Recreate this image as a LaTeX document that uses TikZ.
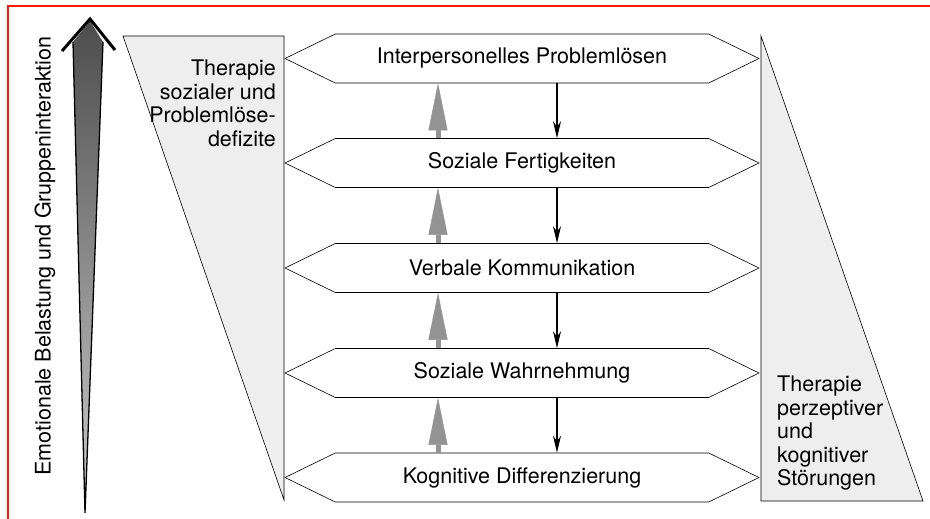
\documentclass[tikz,border=0pt]{standalone}
\usepackage{fontspec}
\setmainfont{TeX Gyre Heros}
\usepackage{xcolor}
\usepackage{tikz}
\usetikzlibrary{arrows.meta}
\usetikzlibrary{shapes.symbols}

\begin{document}
\begin{tikzpicture}[x=1pt, y=-1pt,
  ebene/.style={signal, signal to=west and east, signal pointer angle=52, draw=black, line width=0.6pt, fill=white,
    minimum width=474pt, minimum height=49pt, inner sep=0pt, font=\fontsize{21.5}{24}\selectfont},
  hoch/.style={gray!85, line width=5pt, -{Triangle[length=47pt, width=19pt, line width=0.4pt]}},
  runter/.style={black, line width=1.2pt, -{Stealth[length=17pt, width=8pt]}},
  keil/.style={fill=gray!13, draw=black, line width=0.6pt}]
  \useasboundingbox (0,0) rectangle (930,519);
  \draw[red!80!orange, line width=1.5pt] (930,6) -- (8,6) -- (8,519);
  % Keile links und rechts
  \filldraw[keil] (123,36) -- (284,36) -- (284,500) -- cycle;
  \filldraw[keil] (761,36) -- (761,501) -- (923,501) -- cycle;
  \node[font=\fontsize{21.5}{23.5}\selectfont, align=right, anchor=north east, inner sep=0pt] (links) at (276,60)
    {Therapie\\sozialer und\\Problemlöse-\\defizite};
  \node[font=\fontsize{21.5}{23.5}\selectfont, align=left, anchor=north west, inner sep=0pt] (rechts) at (777,376)
    {Therapie\\perzeptiver\\und\\kognitiver\\Störungen};
  % Ebenen
  \node[ebene] (b1) at (522,58.5) {Interpersonelles Problemlösen};
  \node[ebene] (b2) at (522,163) {Soziale Fertigkeiten};
  \node[ebene] (b3) at (522,268) {Verbale Kommunikation};
  \node[ebene] (b4) at (522,373) {Soziale Wahrnehmung};
  \node[ebene] (b5) at (522,477.5) {Kognitive Differenzierung};
  \foreach \o/\u in {b1/b2,b2/b3,b3/b4,b4/b5} {
    \draw[hoch] ([xshift=-84pt]\u.north) -- ([xshift=-84pt]\o.south);
    \draw[runter] ([xshift=35pt]\o.south) -- ([xshift=35pt]\u.north);
  }
  % grosser Pfeil
  \shade[top color=gray!60!black, bottom color=gray!40] (85,513) -- (73,42) -- (90,21) -- (103,42) -- cycle;
  \draw[line width=1.3pt] (73,42) -- (85,513) -- (103,42);
  \draw[line width=3pt, line join=miter] (62,51) -- (90,19) -- (115,50);
  \node[rotate=90, font=\fontsize{21.5}{24}\selectfont] (achse) at (45,256) {Emotionale Belastung und Gruppeninteraktion};
\end{tikzpicture}
\end{document}
